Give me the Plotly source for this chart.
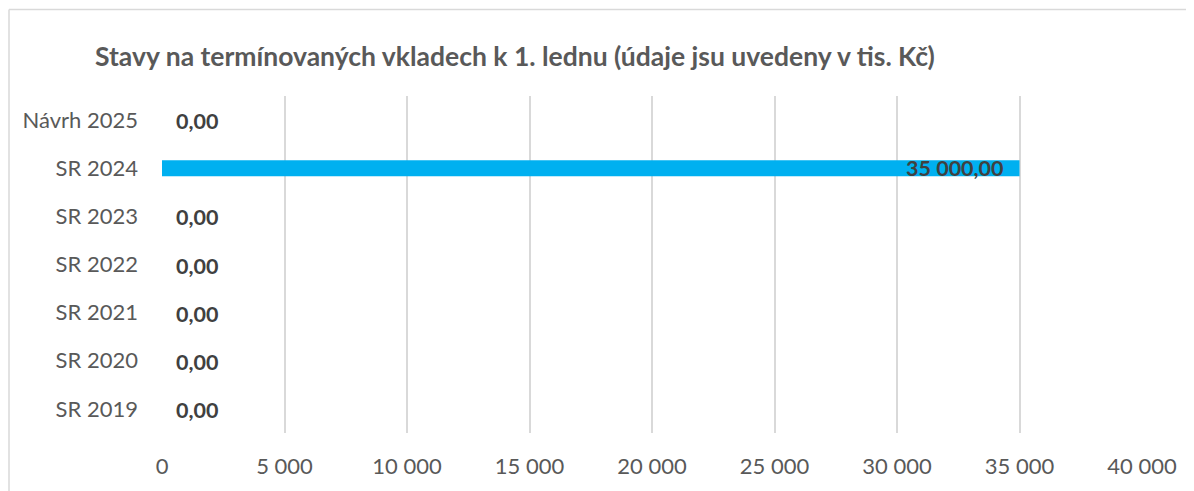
import plotly.graph_objects as go

categories = ["Návrh 2025", "SR 2024", "SR 2023", "SR 2022", "SR 2021", "SR 2020", "SR 2019"]
values = [0, 35000, 0, 0, 0, 0, 0]
labels = ["0,00", "35 000,00", "0,00", "0,00", "0,00", "0,00", "0,00"]
tick_vals = [0, 5000, 10000, 15000, 20000, 25000, 30000, 35000, 40000]
tick_text = ["0", "5 000", "10 000", "15 000", "20 000", "25 000", "30 000", "35 000", "40 000"]

OFF = 8  # page body margin
W, H = 1194 - OFF, 491 - OFF
L, R, T, B = 162 - OFF, 1194 - 1142, 96 - OFF, 491 - 435

FONT = "Lato, Open Sans, sans-serif"

fig = go.Figure()
fig.add_trace(go.Bar(
    y=categories, x=values, orientation="h",
    marker=dict(color="#00B0F0", line=dict(width=0)),
    width=0.33, hoverinfo="x+y",
))

ann = []
for c, v, t in zip(categories, values, labels):
    if v == 0:
        ann.append(dict(x=v, y=c, text="<b>%s</b>" % t, xanchor="left", xshift=12, yshift=-1,
                        showarrow=False, font=dict(size=21.5, color="#404040", family=FONT)))
    else:
        ann.append(dict(x=v, y=c, text="<b>%s</b>" % t, xanchor="right", xshift=-14,
                        showarrow=False, font=dict(size=21.5, color="#404040", family=FONT)))

pw = W - L - R
ph = H - T - B
x0 = (9 - OFF - L) / pw
y1 = 1 + (T - (9 - OFF)) / ph
shapes = [
    dict(type="line", xref="paper", yref="paper", x0=x0, x1=1 + (R + 20) / pw, y0=y1, y1=y1,
         line=dict(color="#d9d9d9", width=1.5)),
    dict(type="line", xref="paper", yref="paper", x0=x0, x1=x0, y0=y1, y1=-(B + 20) / ph,
         line=dict(color="#d9d9d9", width=1.5)),
]

fig.update_layout(
    width=W, height=H,
    margin=dict(l=L, r=R, t=T, b=B),
    paper_bgcolor="white", plot_bgcolor="white",
    font=dict(family=FONT, color="#595959"),
    title=dict(text="<b>Stavy na termínovaných vkladech k 1. lednu (údaje jsu uvedeny v tis. Kč)</b>",
               x=(95 - OFF) / W, xanchor="left", y=1 - (57 - OFF) / H, yanchor="middle",
               font=dict(size=26.5, color="#595959")),
    xaxis=dict(range=[0, 40000], tickvals=tick_vals, ticktext=tick_text,
               showgrid=True, gridcolor="#d9d9d9", gridwidth=2, zeroline=False,
               showline=False, ticks="", tickfont=dict(size=22, color="#595959"),
               ticklabelstandoff=18, fixedrange=True),
    yaxis=dict(autorange="reversed", showgrid=False, zeroline=False, showline=False,
               ticks="", tickfont=dict(size=22, color="#595959"), ticklabelstandoff=23,
               fixedrange=True),
    showlegend=False,
    annotations=ann,
    shapes=shapes,
)

fig.write_html("out.html")
